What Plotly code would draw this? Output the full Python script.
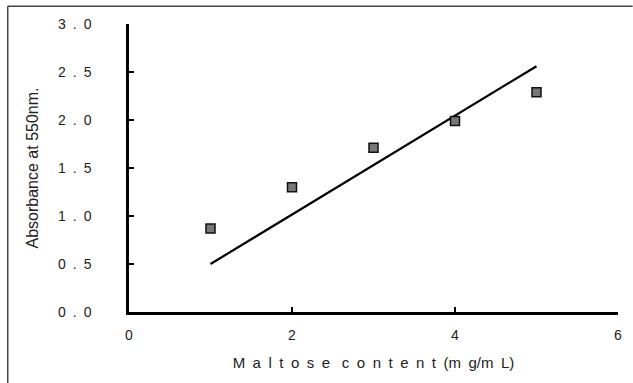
import plotly.graph_objects as go

# Data
maltose = [1, 2, 3, 4, 5]
absorbance = [0.87, 1.30, 1.71, 1.99, 2.29]
fit_x = [1, 5]
fit_y = [0.50, 2.56]

E = "\u2002"  # en space (the original uses wide letter spacing)
x_tickvals = [0, 2, 4, 6]
x_ticktext = ["0", "2", "4", "6"]
y_tickvals = [0, 0.5, 1.0, 1.5, 2.0, 2.5, 3.0]
y_ticktext = [E.join(list(f"{v:.1f}")) for v in y_tickvals]
x_title = E.join(list("Maltose")) + E + "\u00a0" + E.join(list("content")) + E + "(" + E.join(["m", "g/m", "L"]) + ")"
y_title = "Absorbance at 550nm."

fig = go.Figure()
fig.add_trace(go.Scatter(x=fit_x, y=fit_y, mode="lines",
                         line=dict(color="black", width=2.2), showlegend=False))
fig.add_trace(go.Scatter(x=maltose, y=absorbance, mode="markers",
                         marker=dict(symbol="square", size=9, color="#777777",
                                     line=dict(color="#111111", width=1.5)),
                         showlegend=False))

font = dict(family="Liberation Sans, Arial, sans-serif", size=13, color="#222222")

fig.update_layout(
    width=633, height=383,
    margin=dict(l=129, r=11, t=24, b=71),
    paper_bgcolor="white", plot_bgcolor="white",
    font=font,
    xaxis=dict(range=[0, 6], tickvals=x_tickvals, ticktext=x_ticktext,
               showgrid=False, zeroline=False, showline=True, linecolor="black",
               linewidth=2.5, ticks="inside", ticklen=5, tickwidth=1.5, tickcolor="black",
               ticklabelstandoff=8, tickfont=dict(size=14),
               title=dict(text=x_title, standoff=16, font=dict(size=15))),
    yaxis=dict(range=[0, 3], tickvals=y_tickvals, ticktext=y_ticktext,
               showgrid=False, zeroline=False, showline=True, linecolor="black",
               linewidth=2.5, ticks="inside", ticklen=5, tickwidth=1.5, tickcolor="black",
               ticklabelstandoff=32, tickfont=dict(size=14),
               title=dict(text=y_title, standoff=16, font=dict(size=16))),
    shapes=[
        dict(type="line", xref="paper", yref="paper", x0=-0.248, x1=1.03, y0=1.062, y1=1.062,
             line=dict(color="#444444", width=1.5)),
        dict(type="line", xref="paper", yref="paper", x0=-0.248, x1=-0.248, y0=1.062, y1=-0.3,
             line=dict(color="#444444", width=1.5)),
    ],
)

fig.write_html("out.html")
